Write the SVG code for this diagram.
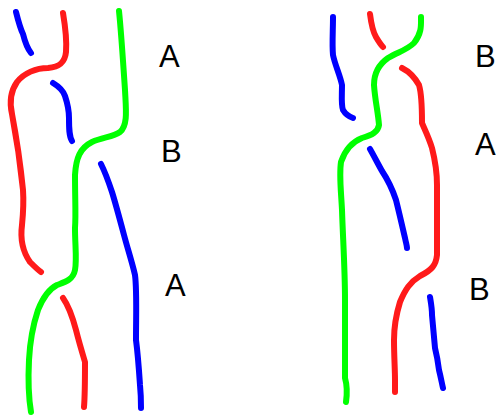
<svg xmlns="http://www.w3.org/2000/svg" width="496" height="417" viewBox="0 0 496 417">
  <style>
    .s { fill: none; stroke-width: 6; stroke-linecap: round; stroke-linejoin: round; }
    .r { stroke: #ff1a1a; }
    .g { stroke: #00ff00; }
    .b { stroke: #0000ff; }
    .lbl { font-family: "Liberation Sans", Arial, sans-serif; font-size: 31px; fill: #000; }
  </style>
  <rect width="496" height="417" fill="#fff"/>
  <g id="strands">
    <!-- left braid -->
    <path class="s b" d="M16,12 C18,20 20,28 23,34 C25,42 27,48 31,53"/>
    <path class="s r" d="M63,13 C65,25 67,40 66,52 C65,62 60,67 48,68 C36,68 24,73 17,82 C10,92 10,105 12,114 C16,135 20,160 23,190 C24,205 23,215 22,225 C20,240 23,252 30,262 C34,266 38,270 41,272"/>
    <path class="s b" d="M53,83 C58,86 63,90 65,96 C67,102 69,108 69,118 C69,128 69,136 72,141"/>
    <path class="s g" d="M119,11 C121,30 123,60 125,90 C126,110 128,125 120,132 C113,137 103,137 92,142 C80,148 76,158 75,175 C75,200 76,215 75,228 C75,245 77,260 75,270 C73,280 65,282 57,285 C47,290 42,300 38,310 C33,325 30,340 29,360 C28,380 29,400 31,412"/>
    <path class="s r" d="M63,298 C68,305 72,315 76,330 C79,342 82,352 85,362 C85,375 85,395 84,407"/>
    <path class="s b" d="M101,164 C105,172 108,180 112,192 C116,205 120,220 124,235 C128,250 132,262 135,275 C137,290 136,315 136,340 C138,355 139,370 140,385 C141,395 141,402 141,408"/>
    <!-- right braid -->
    <path class="s b" d="M333,17 C333,30 332,45 333,55 C335,65 340,75 342,85 C342,95 341,105 343,110 C346,115 350,117 353,118"/>
    <path class="s r" d="M370,14 C371,22 372,30 376,37 C379,42 381,45 383,47"/>
    <path class="s g" d="M421,17 C421,25 422,33 414,43 C407,50 398,52 388,58 C378,65 374,75 374,85 C375,100 378,112 379,125 C378,132 372,135 362,138 C352,142 345,150 341,162 C339,175 341,190 342,210 C343,240 345,270 345,300 C345,330 345,360 345,378 C347,385 347,395 346,402"/>
    <path class="s r" d="M402,68 C408,71 414,76 419,85 C422,95 422,110 422,123 C425,130 429,138 432,148 C435,160 437,170 437,185 C437,210 437,235 437,255 C436,265 432,270 420,276 C410,282 405,290 400,302 C396,315 394,325 394,340 C394,355 395,370 395,380 C395,387 395,390 395,392"/>
    <path class="s b" d="M370,149 C374,156 378,164 382,171 C388,180 392,188 396,200 C399,212 402,225 405,238 C406,243 407,246 407,248"/>
    <path class="s b" d="M430,297 C431,303 432,308 432,315 C433,325 434,338 435,348 C437,356 438,362 439,370 C441,378 442,384 443,388"/>
  </g>
  <g id="labels">
    <text class="lbl" x="159" y="67">A</text>
    <text class="lbl" x="161" y="162">B</text>
    <text class="lbl" x="165" y="296">A</text>
    <text class="lbl" x="475" y="67">B</text>
    <text class="lbl" x="475" y="155">A</text>
    <text class="lbl" x="469" y="300">B</text>
  </g>
</svg>
